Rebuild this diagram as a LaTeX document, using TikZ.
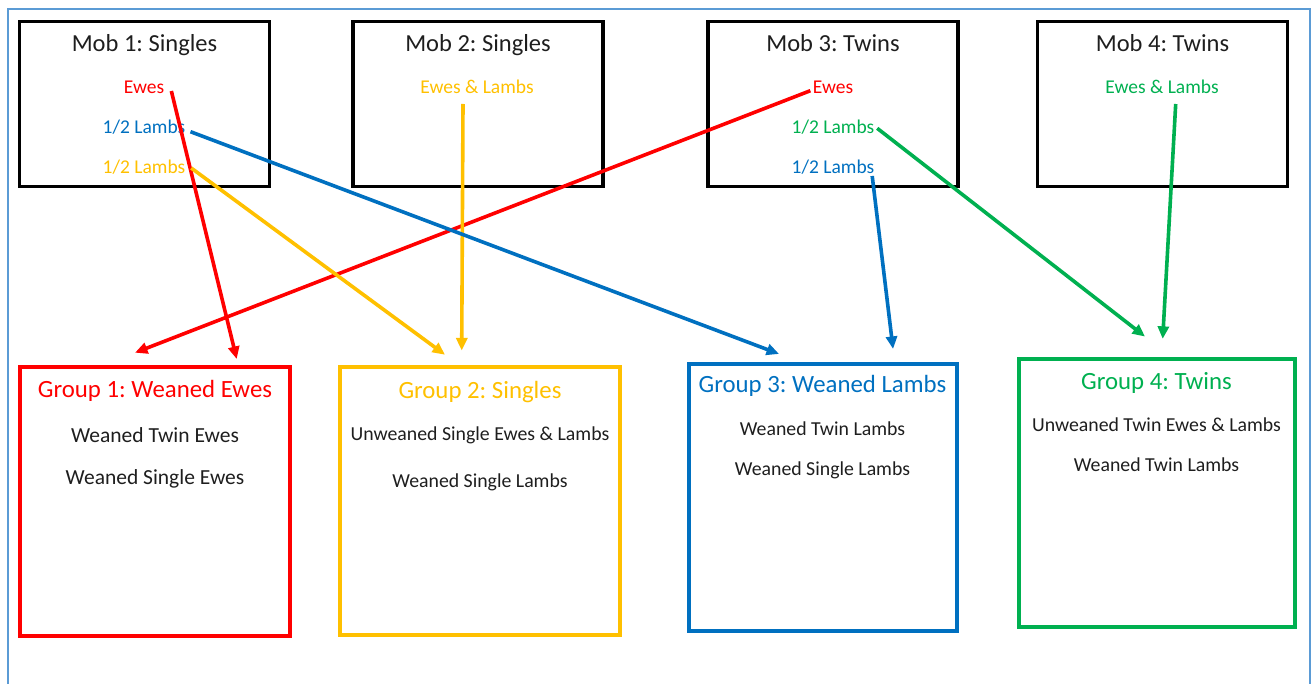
\documentclass[tikz,border=0pt]{standalone}
\usepackage{fontspec}
\setmainfont{Carlito}
\frenchspacing
\usetikzlibrary{arrows.meta}
\definecolor{cred}{HTML}{FF0000}
\definecolor{cyel}{HTML}{FFC000}
\definecolor{cblue}{HTML}{0070C0}
\definecolor{cgreen}{HTML}{00B050}
\definecolor{cframe}{HTML}{5B9BD5}
\definecolor{ctext}{HTML}{1E1E1E}
\tikzset{
  mobbox/.style={draw=black, line width=3.6pt, minimum width=250pt, minimum height=165pt, inner sep=0pt, outer sep=0pt},
  grpbox/.style={line width=4pt, inner sep=0pt, outer sep=0pt},
  mobtitle/.style={anchor=base, inner sep=0pt, text=ctext, font=\fontsize{24.5}{29}\selectfont},
  item/.style={anchor=base, inner sep=0pt, font=\fontsize{19.5}{23}\selectfont},
  gtitle/.style={anchor=base, inner sep=0pt, font=\fontsize{24.8}{29}\selectfont},
  gbody/.style={anchor=base, inner sep=0pt, text=ctext, font=\fontsize{19.8}{23}\selectfont},
  flow/.style={line width=3.6pt, -{Triangle[length=12.5pt,width=11pt]}},
}
\begin{document}
\begin{tikzpicture}[x=1pt,y=-1pt]
\useasboundingbox (0,0) rectangle (1314,684);
% outer frame
\draw[cframe, line width=2pt] (7.5,684) -- (7.5,9) -- (1310,9) -- (1310,684);

% mob boxes
\node[mobbox] (mob1) at (144.5,104) {};
\node[mobbox] (mob2) at (478,104) {};
\node[mobbox] (mob3) at (833,104) {};
\node[mobbox] (mob4) at (1162.5,104) {};
\node[mobtitle] (mt1) at (144.5,52) {Mob 1: Singles};
\node[mobtitle] (mt2) at (478,52) {Mob 2: Singles};
\node[mobtitle] (mt3) at (833,52) {Mob 3: Twins};
\node[mobtitle] (mt4) at (1162.5,52) {Mob 4: Twins};

\node[item, text=cred] (m1e) at (144,94) {Ewes};
\node[item, text=cblue] (m1b) at (144,134) {1/2 Lambs};
\node[item, text=cyel] (m1y) at (144,174) {1/2 Lambs};
\node[item, text=cyel] (m2) at (477,94) {Ewes \& Lambs};
\node[item, text=cred] (m3e) at (833,94) {Ewes};
\node[item, text=cgreen] (m3g) at (833,134) {1/2 Lambs};
\node[item, text=cblue] (m3b) at (833,174) {1/2 Lambs};
\node[item, text=cgreen] (m4) at (1162,94) {Ewes \& Lambs};

% group boxes
\node[grpbox, draw=cred, minimum width=269.4pt, minimum height=269pt] (g1) at (155,501.5) {};
\node[grpbox, draw=cyel, minimum width=280pt, minimum height=268.5pt] (g2) at (480.3,501) {};
\node[grpbox, draw=cblue, minimum width=268.5pt, minimum height=267.3pt] (g3) at (822.8,497.3) {};
\node[grpbox, draw=cgreen, minimum width=276pt, minimum height=267.7pt] (g4) at (1156.7,493) {};

\node[gtitle, text=cred] (gt1) at (155,397) {Group 1: Weaned Ewes};
\node[gbody, font=\fontsize{21.5}{25}\selectfont] (gb1a) at (155,442) {Weaned Twin Ewes};
\node[gbody, font=\fontsize{21.5}{25}\selectfont] (gb1b) at (155,484) {Weaned Single Ewes};

\node[gtitle, text=cyel] (gt2) at (480,398) {Group 2: Singles};
\node[gbody] (gb2a) at (480,440) {Unweaned Single Ewes \& Lambs};
\node[gbody] (gb2b) at (480,487) {Weaned Single Lambs};

\node[gtitle, text=cblue] (gt3) at (822.5,392.7) {Group 3: Weaned Lambs};
\node[gbody] (gb3a) at (822.5,435.5) {Weaned Twin Lambs};
\node[gbody] (gb3b) at (822.5,475.5) {Weaned Single Lambs};

\node[gtitle, text=cgreen] (gt4) at (1156.5,389) {Group 4: Twins};
\node[gbody] (gb4a) at (1156.5,431) {Unweaned Twin Ewes \& Lambs};
\node[gbody] (gb4b) at (1156.5,471) {Weaned Twin Lambs};

% connectors
\draw[flow, cred] ([shift={(7,-3)}]m1e.base east) -- ([shift={(216.4,-8)}]g1.north west);
\draw[flow, cred] ([shift={(-2.3,-3.3)}]m3e.base west) -- ([shift={(114.7,-14.3)}]g1.north west);
\draw[flow, cyel] ([shift={(5.7,-6)}]m1y.base east) -- ([shift={(104.7,-12)}]g2.north west);
\draw[flow, cyel] ([shift={(-14,10)}]m2.base) -- ([shift={(121.4,-16.3)}]g2.north west);
\draw[flow, cblue] ([shift={(5,-2.3)}]m1b.base east) -- ([shift={(90.5,-9.7)}]g3.north west);
\draw[flow, cblue] ([shift={(-2.3,2)}]m3b.base east) -- ([shift={(204.5,-14.7)}]g3.north west);
\draw[flow, cgreen] ([shift={(2.7,-5.7)}]m3g.base east) -- ([shift={(126.3,-22.6)}]g4.north west);
\draw[flow, cgreen] ([shift={(13.7,10)}]m4.base) -- ([shift={(144,-20.3)}]g4.north west);
\end{tikzpicture}
\end{document}
